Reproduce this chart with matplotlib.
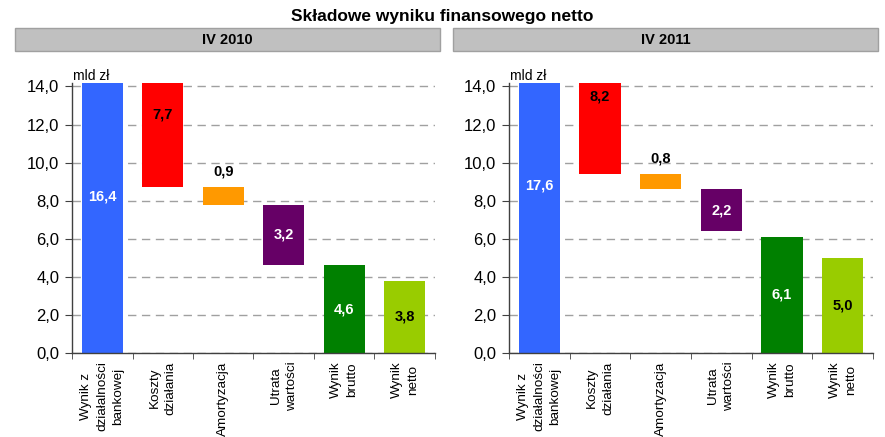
import matplotlib
matplotlib.use("Agg")
import matplotlib.pyplot as plt
from matplotlib.patches import Rectangle
from matplotlib.ticker import FixedLocator

plt.rcParams['font.family'] = ['Liberation Sans', 'DejaVu Sans']

title = "Składowe wyniku finansowego netto"
unit = "mld zł"
categories = ['Wynik z\ndziałalności\nbankowej', 'Koszty\ndziałania', 'Amortyzacja',
              'Utrata\nwartości', 'Wynik\nbrutto', 'Wynik\nnetto']
kinds = ['total', 'decrease', 'decrease', 'decrease', 'total', 'total']
panel_titles = ['IV 2010', 'IV 2011']
values_2010 = [16.4, 7.7, 0.9, 3.2, 4.6, 3.8]
values_2011 = [17.6, 8.2, 0.8, 2.2, 6.1, 5.0]
labels_2010 = ['16,4', '7,7', '0,9', '3,2', '4,6', '3,8']
labels_2011 = ['17,6', '8,2', '0,8', '2,2', '6,1', '5,0']
yticks = [0, 2, 4, 6, 8, 10, 12, 14]
ytick_labels = ['0,0', '2,0', '4,0', '6,0', '8,0', '10,0', '12,0', '14,0']

colors = ['#3366FF', '#FF0000', '#FF9900', '#660066', '#008000', '#99CC00']
label_colors = ['white', 'black', 'black', 'white', 'white', 'black']
label_pos = ['mid', 'mid', 'above', 'mid', 'mid', 'mid']

W, H = 885, 437
fig = plt.figure(figsize=(W / 100, H / 100), dpi=100)

fig.text(0.5, 1 - 16 / H, title, ha='center', va='center', fontsize=12.5, fontweight='bold')

panels = [
    (values_2010, labels_2010, 72, 363, (15, 440)),
    (values_2011, labels_2011, 509, 364, (453, 878)),
]
ymax = 14.2
y0_px, y14_px = 353, 86.5
top_px = y0_px - (y0_px - y14_px) / 14 * ymax

for (vals, labs, x0, w, (bx0, bx1)), ptitle in zip(panels, panel_titles):
    # header box
    fig.patches.append(Rectangle((bx0 / W, 1 - 51 / H), (bx1 - bx0) / W, 23 / H,
                                 transform=fig.transFigure, facecolor='#C0C0C0',
                                 edgecolor='#A0A0A0', linewidth=1))
    fig.text((bx0 + bx1) / 2 / W, 1 - 39.5 / H, ptitle, ha='center', va='center',
             fontsize=10.5, fontweight='bold')

    ax = fig.add_axes([x0 / W, 1 - y0_px / H, w / W, (y0_px - top_px) / H])
    # waterfall bottoms
    bottoms = []
    heights = []
    running = 0.0
    for v, k in zip(vals, kinds):
        if k == 'total':
            bottoms.append(0.0)
            heights.append(v)
            running = v
        else:
            bottoms.append(running - v)
            heights.append(v)
            running = running - v
    xs = list(range(len(vals)))
    ax.bar(xs, heights, bottom=bottoms, width=0.68, color=colors, zorder=2)
    for x, b, h, lab, c, p in zip(xs, bottoms, heights, labs, label_colors, label_pos):
        if p == 'mid':
            ax.text(x, b + h / 2, lab, ha='center', va='center', color=c,
                    fontsize=10.5, fontweight='bold', zorder=3)
        else:
            ax.text(x, b + h + 0.45, lab, ha='center', va='bottom', color=c,
                    fontsize=10.5, fontweight='bold', zorder=3)

    ax.set_xlim(-0.5, len(vals) - 0.5)
    ax.set_ylim(0, ymax)
    ax.set_yticks(yticks)
    ax.set_yticklabels(ytick_labels, fontsize=12)
    ax.set_xticks(xs)
    ax.set_xticklabels(categories, rotation=90, fontsize=9.7, va='top', ha='center',
                       multialignment='center', linespacing=1.45)
    ax.tick_params(axis='x', which='major', length=0, pad=6)
    ax.xaxis.set_minor_locator(FixedLocator([i - 0.5 for i in range(len(vals) + 1)]))
    ax.tick_params(axis='x', which='minor', length=4, direction='out', color='#404040')
    ax.tick_params(axis='y', length=5, direction='out', color='#404040', pad=4)
    for s in ['top', 'right']:
        ax.spines[s].set_visible(False)
    for s in ['left', 'bottom']:
        ax.spines[s].set_color('#404040')
        ax.spines[s].set_linewidth(1)
    ax.yaxis.grid(True, linestyle=(0, (6, 4)), color='#A0A0A0', linewidth=1, zorder=0)
    ax.set_axisbelow(True)
    ax.text(0.003, 1.0, unit, transform=ax.transAxes, ha='left', va='bottom', fontsize=10)

fig.savefig('out.png', dpi=100)
